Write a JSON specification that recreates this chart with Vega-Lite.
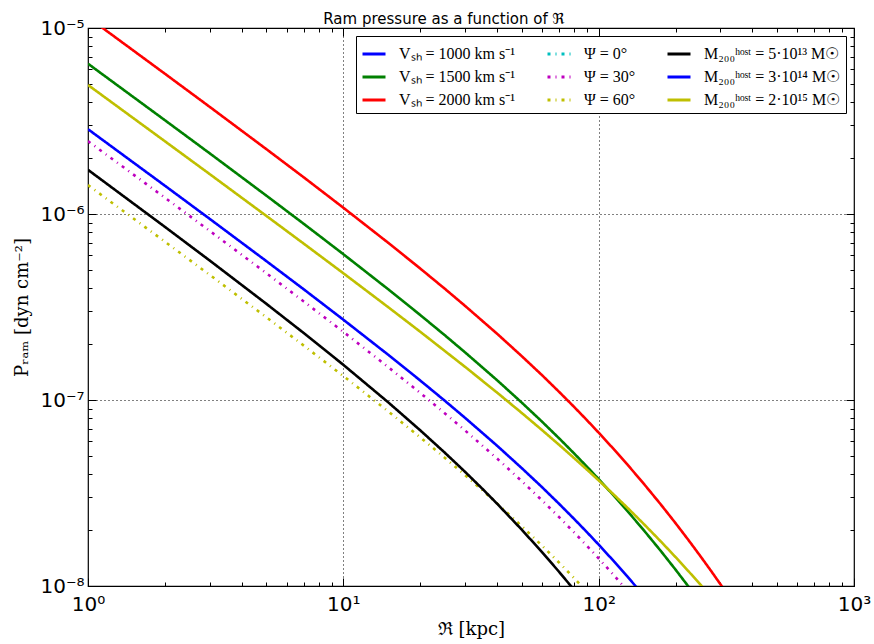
{
  "$schema": "https://vega.github.io/schema/vega-lite/v6.json",
  "width": 766,
  "height": 558,
  "autosize": {"type": "none"},
  "padding": {"left": 88, "top": 28, "right": 20, "bottom": 58},
  "background": "white",
  "title": {"text": "Ram pressure as a function of ℜ", "font": "DejaVu Sans", "fontSize": 15, "fontWeight": "normal", "color": "black", "offset": -9, "dx": -27},
  "config": {
    "view": {"stroke": "black", "strokeWidth": 1.2},
    "axis": {"domain": false, "labelOverlap": false, "labelFlush": false, "labelBound": false}
  },
  "datasets": {
    "curves": [
      {"R": 1, "P": 2.857e-6, "s": "Vₛₕ = 1000 km s⁻¹"},
      {"R": 2, "P": 1.420e-6, "s": "Vₛₕ = 1000 km s⁻¹"},
      {"R": 3, "P": 9.407e-7, "s": "Vₛₕ = 1000 km s⁻¹"},
      {"R": 5, "P": 5.575e-7, "s": "Vₛₕ = 1000 km s⁻¹"},
      {"R": 7, "P": 3.935e-7, "s": "Vₛₕ = 1000 km s⁻¹"},
      {"R": 10, "P": 2.703e-7, "s": "Vₛₕ = 1000 km s⁻¹"},
      {"R": 15, "P": 1.749e-7, "s": "Vₛₕ = 1000 km s⁻¹"},
      {"R": 20, "P": 1.2735e-7, "s": "Vₛₕ = 1000 km s⁻¹"},
      {"R": 25, "P": 9.895e-8, "s": "Vₛₕ = 1000 km s⁻¹"},
      {"R": 30, "P": 8.010e-8, "s": "Vₛₕ = 1000 km s⁻¹"},
      {"R": 40, "P": 5.680e-8, "s": "Vₛₕ = 1000 km s⁻¹"},
      {"R": 50, "P": 4.300e-8, "s": "Vₛₕ = 1000 km s⁻¹"},
      {"R": 60, "P": 3.400e-8, "s": "Vₛₕ = 1000 km s⁻¹"},
      {"R": 70, "P": 2.765e-8, "s": "Vₛₕ = 1000 km s⁻¹"},
      {"R": 80, "P": 2.300e-8, "s": "Vₛₕ = 1000 km s⁻¹"},
      {"R": 90, "P": 1.946e-8, "s": "Vₛₕ = 1000 km s⁻¹"},
      {"R": 100, "P": 1.669e-8, "s": "Vₛₕ = 1000 km s⁻¹"},
      {"R": 115, "P": 1.353e-8, "s": "Vₛₕ = 1000 km s⁻¹"},
      {"R": 130, "P": 1.1185e-8, "s": "Vₛₕ = 1000 km s⁻¹"},
      {"R": 150, "P": 8.885e-9, "s": "Vₛₕ = 1000 km s⁻¹"},

      {"R": 1, "P": 6.428e-6, "s": "Vₛₕ = 1500 km s⁻¹"},
      {"R": 2, "P": 3.194e-6, "s": "Vₛₕ = 1500 km s⁻¹"},
      {"R": 3, "P": 2.117e-6, "s": "Vₛₕ = 1500 km s⁻¹"},
      {"R": 5, "P": 1.254e-6, "s": "Vₛₕ = 1500 km s⁻¹"},
      {"R": 7, "P": 8.852e-7, "s": "Vₛₕ = 1500 km s⁻¹"},
      {"R": 10, "P": 6.082e-7, "s": "Vₛₕ = 1500 km s⁻¹"},
      {"R": 15, "P": 3.935e-7, "s": "Vₛₕ = 1500 km s⁻¹"},
      {"R": 20, "P": 2.865e-7, "s": "Vₛₕ = 1500 km s⁻¹"},
      {"R": 25, "P": 2.226e-7, "s": "Vₛₕ = 1500 km s⁻¹"},
      {"R": 30, "P": 1.802e-7, "s": "Vₛₕ = 1500 km s⁻¹"},
      {"R": 40, "P": 1.278e-7, "s": "Vₛₕ = 1500 km s⁻¹"},
      {"R": 50, "P": 9.677e-8, "s": "Vₛₕ = 1500 km s⁻¹"},
      {"R": 60, "P": 7.650e-8, "s": "Vₛₕ = 1500 km s⁻¹"},
      {"R": 70, "P": 6.221e-8, "s": "Vₛₕ = 1500 km s⁻¹"},
      {"R": 80, "P": 5.175e-8, "s": "Vₛₕ = 1500 km s⁻¹"},
      {"R": 90, "P": 4.379e-8, "s": "Vₛₕ = 1500 km s⁻¹"},
      {"R": 100, "P": 3.755e-8, "s": "Vₛₕ = 1500 km s⁻¹"},
      {"R": 115, "P": 3.044e-8, "s": "Vₛₕ = 1500 km s⁻¹"},
      {"R": 130, "P": 2.517e-8, "s": "Vₛₕ = 1500 km s⁻¹"},
      {"R": 150, "P": 1.999e-8, "s": "Vₛₕ = 1500 km s⁻¹"},
      {"R": 175, "P": 1.545e-8, "s": "Vₛₕ = 1500 km s⁻¹"},
      {"R": 200, "P": 1.225e-8, "s": "Vₛₕ = 1500 km s⁻¹"},
      {"R": 225, "P": 9.911e-9, "s": "Vₛₕ = 1500 km s⁻¹"},
      {"R": 250, "P": 8.156e-9, "s": "Vₛₕ = 1500 km s⁻¹"},

      {"R": 1, "P": 1.1428e-5, "s": "Vₛₕ = 2000 km s⁻¹"},
      {"R": 2, "P": 5.679e-6, "s": "Vₛₕ = 2000 km s⁻¹"},
      {"R": 3, "P": 3.763e-6, "s": "Vₛₕ = 2000 km s⁻¹"},
      {"R": 5, "P": 2.230e-6, "s": "Vₛₕ = 2000 km s⁻¹"},
      {"R": 7, "P": 1.574e-6, "s": "Vₛₕ = 2000 km s⁻¹"},
      {"R": 10, "P": 1.081e-6, "s": "Vₛₕ = 2000 km s⁻¹"},
      {"R": 15, "P": 6.996e-7, "s": "Vₛₕ = 2000 km s⁻¹"},
      {"R": 20, "P": 5.094e-7, "s": "Vₛₕ = 2000 km s⁻¹"},
      {"R": 25, "P": 3.958e-7, "s": "Vₛₕ = 2000 km s⁻¹"},
      {"R": 30, "P": 3.204e-7, "s": "Vₛₕ = 2000 km s⁻¹"},
      {"R": 40, "P": 2.272e-7, "s": "Vₛₕ = 2000 km s⁻¹"},
      {"R": 50, "P": 1.720e-7, "s": "Vₛₕ = 2000 km s⁻¹"},
      {"R": 60, "P": 1.360e-7, "s": "Vₛₕ = 2000 km s⁻¹"},
      {"R": 70, "P": 1.106e-7, "s": "Vₛₕ = 2000 km s⁻¹"},
      {"R": 80, "P": 9.200e-8, "s": "Vₛₕ = 2000 km s⁻¹"},
      {"R": 90, "P": 7.785e-8, "s": "Vₛₕ = 2000 km s⁻¹"},
      {"R": 100, "P": 6.676e-8, "s": "Vₛₕ = 2000 km s⁻¹"},
      {"R": 115, "P": 5.411e-8, "s": "Vₛₕ = 2000 km s⁻¹"},
      {"R": 130, "P": 4.474e-8, "s": "Vₛₕ = 2000 km s⁻¹"},
      {"R": 150, "P": 3.554e-8, "s": "Vₛₕ = 2000 km s⁻¹"},
      {"R": 175, "P": 2.747e-8, "s": "Vₛₕ = 2000 km s⁻¹"},
      {"R": 200, "P": 2.178e-8, "s": "Vₛₕ = 2000 km s⁻¹"},
      {"R": 225, "P": 1.762e-8, "s": "Vₛₕ = 2000 km s⁻¹"},
      {"R": 250, "P": 1.450e-8, "s": "Vₛₕ = 2000 km s⁻¹"},
      {"R": 275, "P": 1.210e-8, "s": "Vₛₕ = 2000 km s⁻¹"},
      {"R": 300, "P": 1.021e-8, "s": "Vₛₕ = 2000 km s⁻¹"},
      {"R": 330, "P": 8.444e-9, "s": "Vₛₕ = 2000 km s⁻¹"},

      {"R": 1, "P": 2.464e-6, "s": "Ψ = 30°"},
      {"R": 2, "P": 1.224e-6, "s": "Ψ = 30°"},
      {"R": 3, "P": 8.107e-7, "s": "Ψ = 30°"},
      {"R": 5, "P": 4.802e-7, "s": "Ψ = 30°"},
      {"R": 7, "P": 3.385e-7, "s": "Ψ = 30°"},
      {"R": 10, "P": 2.325e-7, "s": "Ψ = 30°"},
      {"R": 15, "P": 1.502e-7, "s": "Ψ = 30°"},
      {"R": 20, "P": 1.092e-7, "s": "Ψ = 30°"},
      {"R": 25, "P": 8.473e-8, "s": "Ψ = 30°"},
      {"R": 30, "P": 6.852e-8, "s": "Ψ = 30°"},
      {"R": 40, "P": 4.846e-8, "s": "Ψ = 30°"},
      {"R": 50, "P": 3.662e-8, "s": "Ψ = 30°"},
      {"R": 60, "P": 2.886e-8, "s": "Ψ = 30°"},
      {"R": 70, "P": 2.344e-8, "s": "Ψ = 30°"},
      {"R": 80, "P": 1.945e-8, "s": "Ψ = 30°"},
      {"R": 90, "P": 1.643e-8, "s": "Ψ = 30°"},
      {"R": 100, "P": 1.407e-8, "s": "Ψ = 30°"},
      {"R": 115, "P": 1.137e-8, "s": "Ψ = 30°"},
      {"R": 130, "P": 9.379e-9, "s": "Ψ = 30°"},
      {"R": 150, "P": 7.429e-9, "s": "Ψ = 30°"},

      {"R": 1, "P": 1.430e-6, "s": "Ψ = 60°"},
      {"R": 2, "P": 7.102e-7, "s": "Ψ = 60°"},
      {"R": 3, "P": 4.702e-7, "s": "Ψ = 60°"},
      {"R": 5, "P": 2.783e-7, "s": "Ψ = 60°"},
      {"R": 7, "P": 1.961e-7, "s": "Ψ = 60°"},
      {"R": 10, "P": 1.346e-7, "s": "Ψ = 60°"},
      {"R": 15, "P": 8.679e-8, "s": "Ψ = 60°"},
      {"R": 20, "P": 6.301e-8, "s": "Ψ = 60°"},
      {"R": 25, "P": 4.882e-8, "s": "Ψ = 60°"},
      {"R": 30, "P": 3.942e-8, "s": "Ψ = 60°"},
      {"R": 35, "P": 3.276e-8, "s": "Ψ = 60°"},
      {"R": 40, "P": 2.780e-8, "s": "Ψ = 60°"},
      {"R": 50, "P": 2.095e-8, "s": "Ψ = 60°"},
      {"R": 60, "P": 1.648e-8, "s": "Ψ = 60°"},
      {"R": 70, "P": 1.335e-8, "s": "Ψ = 60°"},
      {"R": 80, "P": 1.106e-8, "s": "Ψ = 60°"},
      {"R": 90, "P": 9.319e-9, "s": "Ψ = 60°"},
      {"R": 100, "P": 7.962e-9, "s": "Ψ = 60°"},

      {"R": 1, "P": 1.728e-6, "s": "M₂₀₀ʰᵒˢᵗ = 5·10¹³ M☉"},
      {"R": 2, "P": 8.530e-7, "s": "M₂₀₀ʰᵒˢᵗ = 5·10¹³ M☉"},
      {"R": 3, "P": 5.615e-7, "s": "M₂₀₀ʰᵒˢᵗ = 5·10¹³ M☉"},
      {"R": 5, "P": 3.286e-7, "s": "M₂₀₀ʰᵒˢᵗ = 5·10¹³ M☉"},
      {"R": 7, "P": 2.290e-7, "s": "M₂₀₀ʰᵒˢᵗ = 5·10¹³ M☉"},
      {"R": 10, "P": 1.546e-7, "s": "M₂₀₀ʰᵒˢᵗ = 5·10¹³ M☉"},
      {"R": 15, "P": 9.710e-8, "s": "M₂₀₀ʰᵒˢᵗ = 5·10¹³ M☉"},
      {"R": 20, "P": 6.874e-8, "s": "M₂₀₀ʰᵒˢᵗ = 5·10¹³ M☉"},
      {"R": 25, "P": 5.200e-8, "s": "M₂₀₀ʰᵒˢᵗ = 5·10¹³ M☉"},
      {"R": 30, "P": 4.104e-8, "s": "M₂₀₀ʰᵒˢᵗ = 5·10¹³ M☉"},
      {"R": 35, "P": 3.336e-8, "s": "M₂₀₀ʰᵒˢᵗ = 5·10¹³ M☉"},
      {"R": 40, "P": 2.772e-8, "s": "M₂₀₀ʰᵒˢᵗ = 5·10¹³ M☉"},
      {"R": 50, "P": 2.007e-8, "s": "M₂₀₀ʰᵒˢᵗ = 5·10¹³ M☉"},
      {"R": 60, "P": 1.521e-8, "s": "M₂₀₀ʰᵒˢᵗ = 5·10¹³ M☉"},
      {"R": 70, "P": 1.191e-8, "s": "M₂₀₀ʰᵒˢᵗ = 5·10¹³ M☉"},
      {"R": 80, "P": 9.558e-9, "s": "M₂₀₀ʰᵒˢᵗ = 5·10¹³ M☉"},
      {"R": 90, "P": 7.820e-9, "s": "M₂₀₀ʰᵒˢᵗ = 5·10¹³ M☉"},

      {"R": 1, "P": 4.940e-6, "s": "M₂₀₀ʰᵒˢᵗ = 2·10¹⁵ M☉"},
      {"R": 2, "P": 2.462e-6, "s": "M₂₀₀ʰᵒˢᵗ = 2·10¹⁵ M☉"},
      {"R": 3, "P": 1.637e-6, "s": "M₂₀₀ʰᵒˢᵗ = 2·10¹⁵ M☉"},
      {"R": 5, "P": 9.757e-7, "s": "M₂₀₀ʰᵒˢᵗ = 2·10¹⁵ M☉"},
      {"R": 7, "P": 6.926e-7, "s": "M₂₀₀ʰᵒˢᵗ = 2·10¹⁵ M☉"},
      {"R": 10, "P": 4.803e-7, "s": "M₂₀₀ʰᵒˢᵗ = 2·10¹⁵ M☉"},
      {"R": 15, "P": 3.153e-7, "s": "M₂₀₀ʰᵒˢᵗ = 2·10¹⁵ M☉"},
      {"R": 20, "P": 2.329e-7, "s": "M₂₀₀ʰᵒˢᵗ = 2·10¹⁵ M☉"},
      {"R": 30, "P": 1.506e-7, "s": "M₂₀₀ʰᵒˢᵗ = 2·10¹⁵ M☉"},
      {"R": 40, "P": 1.096e-7, "s": "M₂₀₀ʰᵒˢᵗ = 2·10¹⁵ M☉"},
      {"R": 50, "P": 8.514e-8, "s": "M₂₀₀ʰᵒˢᵗ = 2·10¹⁵ M☉"},
      {"R": 60, "P": 6.892e-8, "s": "M₂₀₀ʰᵒˢᵗ = 2·10¹⁵ M☉"},
      {"R": 70, "P": 5.740e-8, "s": "M₂₀₀ʰᵒˢᵗ = 2·10¹⁵ M☉"},
      {"R": 80, "P": 4.883e-8, "s": "M₂₀₀ʰᵒˢᵗ = 2·10¹⁵ M☉"},
      {"R": 90, "P": 4.221e-8, "s": "M₂₀₀ʰᵒˢᵗ = 2·10¹⁵ M☉"},
      {"R": 100, "P": 3.696e-8, "s": "M₂₀₀ʰᵒˢᵗ = 2·10¹⁵ M☉"},
      {"R": 115, "P": 3.086e-8, "s": "M₂₀₀ʰᵒˢᵗ = 2·10¹⁵ M☉"},
      {"R": 130, "P": 2.624e-8, "s": "M₂₀₀ʰᵒˢᵗ = 2·10¹⁵ M☉"},
      {"R": 150, "P": 2.159e-8, "s": "M₂₀₀ʰᵒˢᵗ = 2·10¹⁵ M☉"},
      {"R": 175, "P": 1.738e-8, "s": "M₂₀₀ʰᵒˢᵗ = 2·10¹⁵ M☉"},
      {"R": 200, "P": 1.431e-8, "s": "M₂₀₀ʰᵒˢᵗ = 2·10¹⁵ M☉"},
      {"R": 225, "P": 1.199e-8, "s": "M₂₀₀ʰᵒˢᵗ = 2·10¹⁵ M☉"},
      {"R": 250, "P": 1.019e-8, "s": "M₂₀₀ʰᵒˢᵗ = 2·10¹⁵ M☉"},
      {"R": 275, "P": 8.761e-9, "s": "M₂₀₀ʰᵒˢᵗ = 2·10¹⁵ M☉"},
      {"R": 300, "P": 7.604e-9, "s": "M₂₀₀ʰᵒˢᵗ = 2·10¹⁵ M☉"}
    ]
  },
  "data": {"name": "curves"},
  "layer": [
    {
      "mark": {"type": "line", "clip": true, "strokeWidth": 2.6},
      "encoding": {
        "x": {"field": "R", "type": "quantitative",
          "scale": {"type": "log", "domain": [1, 1000], "nice": false},
          "axis": {
            "orient": "bottom",
            "values": [1,2,3,4,5,6,7,8,9,10,20,30,40,50,60,70,80,90,100,200,300,400,500,600,700,800,900,1000],
            "labelExpr": "abs(log(datum.value)/LN10 - round(log(datum.value)/LN10)) < 0.001 ? '10' + ['⁰','¹','²','³'][round(log(datum.value)/LN10)] : ''",
            "labelFont": "DejaVu Sans", "labelFontSize": 20, "labelColor": "black", "labelPadding": 16,
            "tickColor": "black", "tickWidth": 1,
            "tickSize": {"condition": {"test": "abs(log(datum.value)/LN10 - round(log(datum.value)/LN10)) < 0.001", "value": -8}, "value": -4},
            "grid": true, "gridColor": "black", "gridDash": [1, 3], "gridWidth": 1,
            "gridOpacity": {"condition": {"test": "abs(log(datum.value)/LN10 - round(log(datum.value)/LN10)) < 0.001 && datum.value > 1.5 && datum.value < 900", "value": 1}, "value": 0},
            "title": "ℜ [kpc]", "titleFont": "DejaVu Serif", "titleFontSize": 18, "titleFontWeight": "normal", "titleColor": "black", "titlePadding": 2
          }
        },
        "y": {"field": "P", "type": "quantitative",
          "scale": {"type": "log", "domain": [1e-8, 1e-5], "nice": false},
          "axis": {
            "orient": "left",
            "values": [1e-8,2e-8,3e-8,4e-8,5e-8,6e-8,7e-8,8e-8,9e-8,1e-7,2e-7,3e-7,4e-7,5e-7,6e-7,7e-7,8e-7,9e-7,1e-6,2e-6,3e-6,4e-6,5e-6,6e-6,7e-6,8e-6,9e-6,1e-5],
            "labelExpr": "abs(log(datum.value)/LN10 - round(log(datum.value)/LN10)) < 0.001 ? '10⁻' + ['⁰','¹','²','³','⁴','⁵','⁶','⁷','⁸','⁹'][-round(log(datum.value)/LN10)] : ''",
            "labelFont": "DejaVu Sans", "labelFontSize": 20, "labelColor": "black", "labelPadding": 12,
            "tickColor": "black", "tickWidth": 1,
            "tickSize": {"condition": {"test": "abs(log(datum.value)/LN10 - round(log(datum.value)/LN10)) < 0.001", "value": -8}, "value": -4},
            "grid": true, "gridColor": "black", "gridDash": [1, 3], "gridWidth": 1,
            "gridOpacity": {"condition": {"test": "abs(log(datum.value)/LN10 - round(log(datum.value)/LN10)) < 0.001 && datum.value > 1.5e-8 && datum.value < 0.9e-5", "value": 1}, "value": 0},
            "title": "Pᵣₐₘ [dyn cm⁻²]", "titleFont": "DejaVu Serif", "titleFontSize": 18, "titleFontWeight": "normal", "titleColor": "black", "titlePadding": 8
          }
        },
        "color": {"field": "s", "type": "nominal",
          "scale": {
            "domain": ["Vₛₕ = 1000 km s⁻¹", "Vₛₕ = 1500 km s⁻¹", "Vₛₕ = 2000 km s⁻¹", "Ψ = 0°", "Ψ = 30°", "Ψ = 60°", "M₂₀₀ʰᵒˢᵗ = 5·10¹³ M☉", "M₂₀₀ʰᵒˢᵗ = 3·10¹⁴ M☉", "M₂₀₀ʰᵒˢᵗ = 2·10¹⁵ M☉"],
            "range": ["#0000ff", "#008000", "#ff0000", "#00bfbf", "#bf00bf", "#bfbf00", "#000000", "#0000ff", "#bfbf00"]
          },
          "legend": {
            "orient": "none", "legendX": 268, "legendY": 8, "columns": 3, "title": null,
            "symbolType": "stroke", "symbolSize": 529, "symbolStrokeWidth": 3,
            "labelFont": "Liberation Serif", "labelFontSize": 16, "labelColor": "black", "labelLimit": 300, "labelOffset": 12,
            "strokeColor": "black", "fillColor": "white", "padding": 5, "rowPadding": 2, "columnPadding": 25, "cornerRadius": 0
          }
        },
        "strokeDash": {"field": "s", "type": "nominal",
          "scale": {
            "domain": ["Vₛₕ = 1000 km s⁻¹", "Vₛₕ = 1500 km s⁻¹", "Vₛₕ = 2000 km s⁻¹", "Ψ = 0°", "Ψ = 30°", "Ψ = 60°", "M₂₀₀ʰᵒˢᵗ = 5·10¹³ M☉", "M₂₀₀ʰᵒˢᵗ = 3·10¹⁴ M☉", "M₂₀₀ʰᵒˢᵗ = 2·10¹⁵ M☉"],
            "range": [[1, 0], [1, 0], [1, 0], [3, 5, 1, 5], [3, 5, 1, 5], [3, 5, 1, 5], [1, 0], [1, 0], [1, 0]]
          },
          "legend": null
        }
      }
    },
    {
      "mark": {"type": "line", "clip": true, "strokeWidth": 0, "opacity": 0},
      "encoding": {
        "x": {"field": "R", "type": "quantitative",
          "scale": {"type": "log", "domain": [1, 1000], "nice": false},
          "axis": {
            "orient": "top", "labels": false, "grid": false, "title": null,
            "values": [1,2,3,4,5,6,7,8,9,10,20,30,40,50,60,70,80,90,100,200,300,400,500,600,700,800,900,1000],
            "tickColor": "black", "tickWidth": 1,
            "tickSize": {"condition": {"test": "abs(log(datum.value)/LN10 - round(log(datum.value)/LN10)) < 0.001", "value": -8}, "value": -4}
          }
        },
        "y": {"field": "P", "type": "quantitative",
          "scale": {"type": "log", "domain": [1e-8, 1e-5], "nice": false},
          "axis": {
            "orient": "right", "labels": false, "grid": false, "title": null,
            "values": [1e-8,2e-8,3e-8,4e-8,5e-8,6e-8,7e-8,8e-8,9e-8,1e-7,2e-7,3e-7,4e-7,5e-7,6e-7,7e-7,8e-7,9e-7,1e-6,2e-6,3e-6,4e-6,5e-6,6e-6,7e-6,8e-6,9e-6,1e-5],
            "tickColor": "black", "tickWidth": 1,
            "tickSize": {"condition": {"test": "abs(log(datum.value)/LN10 - round(log(datum.value)/LN10)) < 0.001", "value": -8}, "value": -4}
          }
        }
      }
    }
  ],
  "resolve": {"axis": {"x": "independent", "y": "independent"}}
}
